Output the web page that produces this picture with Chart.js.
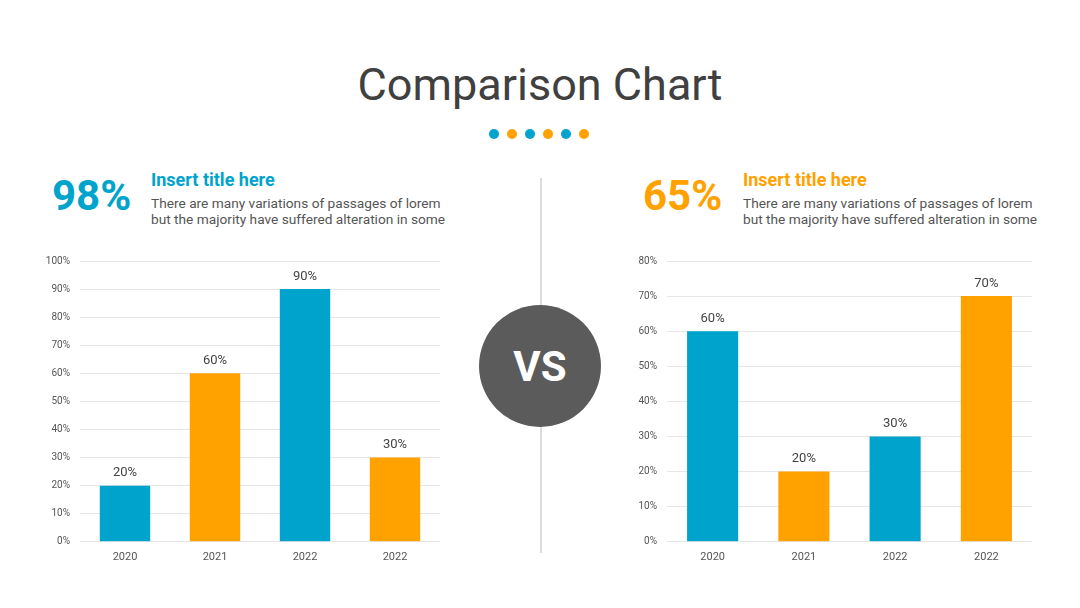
<!DOCTYPE html>
<html lang="en">
<head>
    <meta charset="UTF-8">
    <title>Comparison Chart</title>
    <script src="https://cdn.jsdelivr.net/npm/chart.js@4.4.0/dist/chart.umd.min.js"></script>
    <style>
        body { margin: 0; width: 1080px; height: 608px; background: #fff; font-family: Roboto, sans-serif; position: relative; overflow: hidden; }
        h1 { position: absolute; top: 58px; left: 0; width: 1080px; margin: 0; text-align: center; font-weight: 400; font-size: 45px; color: #404040; }
        .dots { position: absolute; top: 129px; left: 489px; display: flex; gap: 8px; }
        .dots span { width: 10px; height: 10px; border-radius: 50%; }
        .big { position: absolute; top: 171px; font-size: 42px; font-weight: 700; }
        .head { position: absolute; top: 169px; font-size: 18px; font-weight: 700; }
        .body { position: absolute; top: 195px; font-size: 13.7px; line-height: 16px; color: #555; }
        .line { position: absolute; left: 540px; width: 2px; background: #dcdcdc; }
        .vs { position: absolute; left: 479px; top: 305px; width: 122px; height: 122px; border-radius: 50%; background: #5b5b5b; color: #fff; font-size: 42px; font-weight: 700; display: flex; align-items: center; justify-content: center; }
        .box { position: absolute; top: 245px; width: 420px; height: 330px; }
    </style>
</head>
<body>
    <h1>Comparison Chart</h1>
    <div class="dots">
        <span style="background:#00a3cc"></span><span style="background:#ffa200"></span>
        <span style="background:#00a3cc"></span><span style="background:#ffa200"></span>
        <span style="background:#00a3cc"></span><span style="background:#ffa200"></span>
    </div>

    <div class="big" style="left:52px;color:#00a3cc">98%</div>
    <div class="head" style="left:151px;color:#00a3cc">Insert title here</div>
    <div class="body" style="left:151px">There are many variations of passages of lorem<br>but the majority have suffered alteration in some</div>

    <div class="big" style="left:643px;color:#ffa200">65%</div>
    <div class="head" style="left:743px;color:#ffa200">Insert title here</div>
    <div class="body" style="left:743px">There are many variations of passages of lorem<br>but the majority have suffered alteration in some</div>

    <div class="line" style="top:178px;height:127px"></div>
    <div class="line" style="top:427px;height:126px"></div>
    <div class="vs">VS</div>

    <div class="box" style="left:30px"><canvas id="leftChart"></canvas></div>
    <div class="box" style="left:620px"><canvas id="rightChart"></canvas></div>

    <script>
        const BLUE = '#00a3cc';
        const ORANGE = '#ffa200';

        const years = ['2020', '2021', '2022', '2022'];
        const leftValues = [20, 60, 90, 30];
        const rightValues = [60, 20, 30, 70];
        const leftColors = [BLUE, ORANGE, BLUE, ORANGE];
        const rightColors = [BLUE, ORANGE, BLUE, ORANGE];

        // writes the value above each bar
        const valueLabels = {
            id: 'valueLabels',
            afterDatasetsDraw(chart) {
                const ctx = chart.ctx;
                const ds = chart.data.datasets[0];
                ctx.save();
                ctx.font = '13px Roboto';
                ctx.fillStyle = '#444';
                ctx.textAlign = 'center';
                ctx.textBaseline = 'bottom';
                chart.getDatasetMeta(0).data.forEach((bar, i) => {
                    ctx.fillText(ds.data[i] + '%', bar.x, bar.y - 6);
                });
                ctx.restore();
            }
        };

        function makeChart(id, values, colors, max, yWidth, rightPad) {
            new Chart(document.getElementById(id), {
                type: 'bar',
                data: {
                    labels: years,
                    datasets: [{
                        data: values,
                        backgroundColor: colors,
                        barPercentage: 1,
                        categoryPercentage: 0.56
                    }]
                },
                options: {
                    responsive: true,
                    maintainAspectRatio: false,
                    animation: false,
                    layout: { padding: { top: 14, right: rightPad, bottom: 2, left: 0 } },
                    plugins: { legend: { display: false }, tooltip: { enabled: false } },
                    scales: {
                        x: {
                            grid: { display: false, drawTicks: false },
                            border: { display: false },
                            ticks: { color: '#555', font: { family: 'Roboto', size: 11 }, padding: 9 }
                        },
                        y: {
                            min: 0,
                            max: max,
                            afterFit: s => { s.width = yWidth; },
                            grid: { color: '#e6e6e6', drawTicks: false },
                            border: { display: false },
                            ticks: {
                                stepSize: 10,
                                color: '#555',
                                font: { family: 'Roboto', size: 10 },
                                padding: 10,
                                callback: v => v + '%'
                            }
                        }
                    }
                },
                plugins: [valueLabels]
            });
        }

        makeChart('leftChart', leftValues, leftColors, 100, 50, 10);
        makeChart('rightChart', rightValues, rightColors, 80, 47, 8);
    </script>
</body>
</html>
